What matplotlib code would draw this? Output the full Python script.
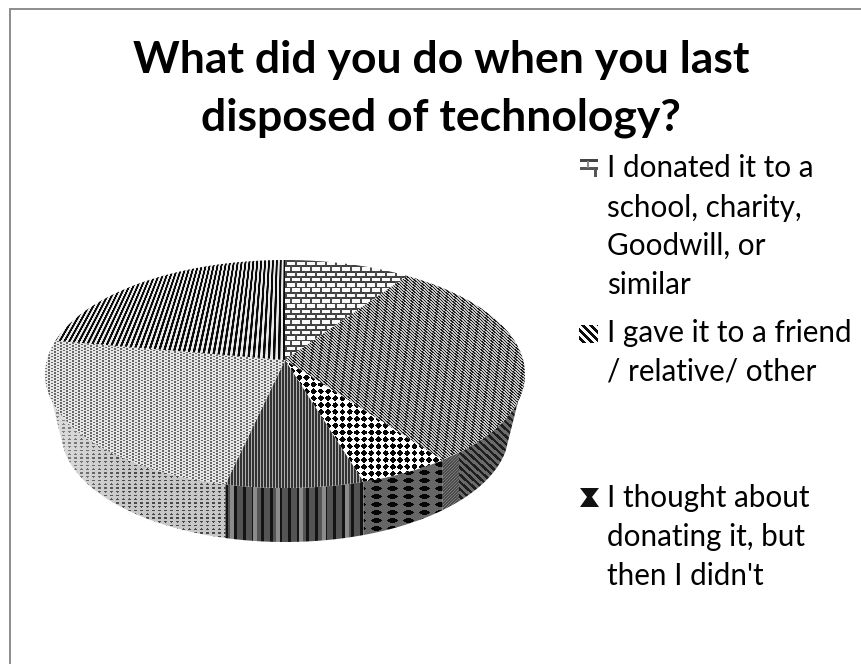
import numpy as np
import matplotlib
matplotlib.use('Agg')
import matplotlib.pyplot as plt
from matplotlib.patches import Polygon, Rectangle

# percent shares going clockwise from 12 o'clock
shares = [8.5, 30.1, 6.1, 9.3, 25.7, 20.3]
top_patterns = ['brick', 'diag', 'checker', 'fine', 'dots', 'bars']
wall_patterns = ['brick', 'diag_wide', 'checker_big', 'bars_wide', 'dots_big', 'bars']

title_lines = ['What did you do when you last', 'disposed of technology?']
title_base = [73, 131]
legend_lines = ['I donated it to a', 'school, charity,', 'Goodwill, or', 'similar',
                'I gave it to a friend', '/ relative/ other',
                'I thought about', 'donating it, but', 'then I didn\'t']
legend_base = [177, 217, 255, 294, 342, 381, 507, 546, 585]

W, H = 861, 664
CX, TOP_CY, TOP_A, TOP_B = 285, 374, 240, 114
BOT_CY, BOT_A, BOT_B = 432, 224, 110
APEX = (285, 360)

yy, xx = np.mgrid[0:H, 0:W].astype(float)


def texture(name):
    if name == 'brick':
        row = np.floor(yy / 5.3)
        ox = np.where(row % 2 == 0, 0, 5)
        img = np.where(yy % 5.3 < 1.8, 0.25, 0.98)
        img = np.where((xx + ox) % 10 < 1.4, 0.3, img)
    elif name == 'diag':
        img = np.where((xx - yy * 1.15) % 3.4 < 1.5, 0.12, 0.78)
    elif name == 'diag_wide':
        img = np.where((xx - yy * 1.1) % 8 < 3.6, 0.12, 0.42)
        img = np.where((xx < 459) & (xx > 440), np.where((xx + yy) % 3 < 1.5, 0.3, 0.48), img)
    elif name == 'icon_diag':
        img = np.where((xx - yy) % 8 < 4, 0.05, 0.98)
    elif name == 'checker':
        a = np.sin((xx + yy * 1.05) * np.pi / 7.2)
        b = np.sin((xx - yy * 1.05) * np.pi / 7.2)
        img = np.where(a * b > 0.05, 0.02, 1.0)
    elif name == 'checker_big':
        a = np.sin((xx + yy * 2.0) * np.pi / 16)
        b = np.sin((xx - yy * 2.0) * np.pi / 16)
        img = np.where(a * b > 0.25, 0.02, 0.4)
    elif name == 'fine':
        img = np.where(xx % 3 < 1.3, 0.2, 0.68)
    elif name == 'bars_wide':
        img = np.where(xx % 9 < 3, 0.08, 0.33)
        img = np.where(xx % 23 < 4, 0.55, img)
    elif name == 'dots':
        img = np.where((xx % 3 < 1.2) & ((yy + np.floor(xx / 3) * 1.5) % 3 < 1.2), 0.4, 0.9)
    elif name == 'dots_big':
        a = np.sin((xx + yy * 1.6) * np.pi / 6)
        b = np.sin((xx - yy * 1.6) * np.pi / 6)
        img = np.where(a * b > 0.5, 0.28, 0.78)
        img = img + (1 - img) * np.clip((130 - xx) / 130, 0, 1) * 0.6
    else:
        # vertical bars that close up towards the back, as the perspective fill does
        u = (xx - CX) / (1 + 0.0025 * (yy - 350))
        img = np.clip(0.48 + 1.4 * np.sin(u * 2 * np.pi / 5), 0.04, 0.92)
    return img


def ring(t1, t2, cy, a, b, n=80):
    t = np.radians(np.linspace(t1, t2, n))
    return np.column_stack([CX + a * np.sin(t), cy - b * np.cos(t)])


def bottom_angle(t):
    # same x on the lower rim, so the dividers on the wall stay upright
    s = np.clip(np.sin(np.radians(t)) * TOP_A / BOT_A, -1, 1)
    return 180 - np.degrees(np.arcsin(s))


def fill(ax, pts, name):
    patch = Polygon(pts, closed=True, fc='none', ec='none')
    ax.add_patch(patch)
    im = ax.imshow(texture(name), cmap='gray', vmin=0, vmax=1, extent=(0, W, H, 0),
                   interpolation='bilinear', aspect='auto', zorder=patch.get_zorder())
    im.set_clip_path(patch)


plt.rcParams['font.family'] = ['Lato', 'DejaVu Sans']
fig = plt.figure(figsize=(W / 100, H / 100), dpi=100)
ax = fig.add_axes([0, 0, 1, 1])

edges = np.concatenate([[0], np.cumsum(shares)]) / np.sum(shares) * 360

# walls first, only the part of the rim that faces the viewer
# lower rim stops short of the sides so the closing edge is the tangent of the disc
for i in range(len(shares)):
    t1, t2 = max(edges[i], 90), min(edges[i + 1], 270)
    if t1 >= t2:
        continue
    b1 = 100 if t1 == 90 else bottom_angle(t1)
    b2 = 260 if t2 == 270 else bottom_angle(t2)
    pts = np.vstack([ring(t1, t2, TOP_CY, TOP_A, TOP_B), ring(b2, b1, BOT_CY, BOT_A, BOT_B)])
    fill(ax, pts, wall_patterns[i])

# top face, every slice meets at the shifted apex
for i in range(len(shares)):
    pts = np.vstack([[APEX], ring(edges[i], edges[i + 1], TOP_CY, TOP_A, TOP_B)])
    fill(ax, pts, top_patterns[i])

for line, y in zip(title_lines, title_base):
    ax.text(441, y, line, ha='center', va='baseline', fontsize=32, fontweight='bold', color='black')
for line, y in zip(legend_lines, legend_base):
    ax.text(607, y, line, ha='left', va='baseline', fontsize=21.3, color='black')

# legend keys
for rect, col in [((580, 159, 18, 3), '#444444'), ((580, 167, 18, 3), '#555555'),
                  ((587, 161, 2, 7), '#888888'), ((594, 169, 3, 8), '#555555')]:
    ax.add_patch(Rectangle(rect[:2], rect[2], rect[3], fc=col, ec='none'))
fill(ax, [(579, 325), (598, 325), (598, 343), (579, 343)], 'icon_diag')
ax.add_patch(Polygon([(580, 488), (599, 488), (592, 497), (599, 507), (580, 507), (587, 497)],
                     closed=True, fc='#111111', ec='none'))

# only the top and left edge of the slide frame are in the picture
ax.plot([10, 10, W], [H, 9, 9], color='#8c8c8c', lw=1.4, solid_joinstyle='miter')
ax.set_xlim(0, W)
ax.set_ylim(H, 0)
ax.axis('off')
fig.savefig('out.png', dpi=100)
